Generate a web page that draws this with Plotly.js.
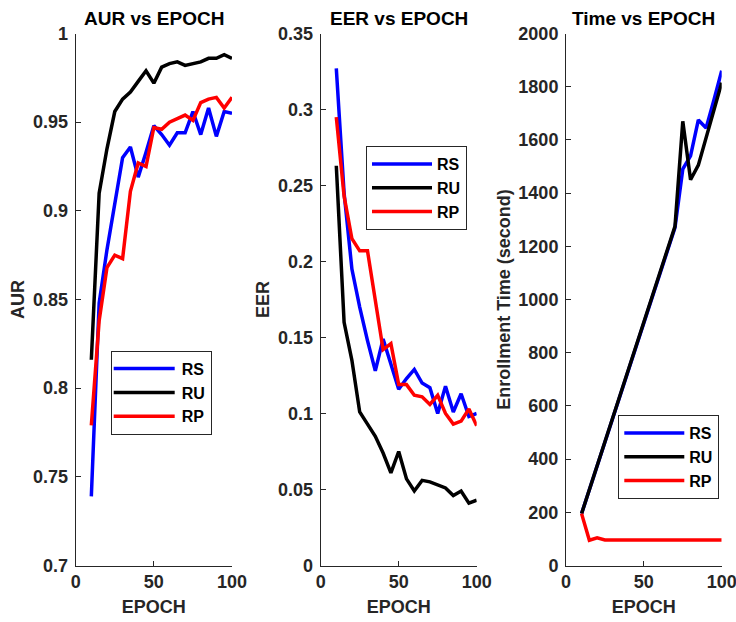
<!DOCTYPE html>
<html>
<head>
<meta charset="utf-8">
<script src="https://cdn.plot.ly/plotly-3.0.1.min.js"></script>
<style>html,body{margin:0;padding:0;background:#fff;}#chart{width:736px;height:622px;}</style>
</head>
<body>
<div id="chart"></div>
<script>
const epochs = [10,15,20,25,30,35,40,45,50,55,60,65,70,75,80,85,90,95,100];

const aurRS = [0.739,0.848,0.878,0.904,0.930,0.936,0.919,0.933,0.948,0.943,0.937,0.944,0.944,0.956,0.943,0.958,0.942,0.956,0.955];
const aurRU = [0.816,0.910,0.935,0.956,0.963,0.967,0.973,0.979,0.972,0.981,0.983,0.984,0.982,0.983,0.984,0.986,0.986,0.988,0.986];
const aurRP = [0.779,0.838,0.868,0.875,0.873,0.911,0.927,0.925,0.947,0.946,0.950,0.952,0.954,0.951,0.961,0.963,0.964,0.958,0.964];

const eerRS = [0.327,0.245,0.195,0.170,0.148,0.128,0.149,0.133,0.116,0.123,0.129,0.120,0.117,0.100,0.118,0.101,0.113,0.098,0.100];
const eerRU = [0.263,0.160,0.135,0.101,0.093,0.085,0.074,0.061,0.075,0.057,0.049,0.056,0.055,0.053,0.051,0.046,0.049,0.041,0.043];
const eerRP = [0.295,0.243,0.215,0.207,0.207,0.173,0.142,0.146,0.119,0.119,0.112,0.111,0.106,0.112,0.100,0.093,0.095,0.103,0.092];

const timeRS = [195,285,375,465,555,645,735,825,915,1005,1095,1180,1270,1490,1540,1675,1645,1750,1860];
const timeRU = [195,285,375,465,555,645,735,825,915,1005,1095,1185,1275,1670,1450,1505,1610,1710,1815];
const timeRP = [195,95,104,96,96,96,96,96,96,96,96,96,96,96,96,96,96,96,96];

const seriesNames = ['RS','RU','RP'];
const seriesColors = ['#0000FF','#000000','#FF0000'];

const panelTitles = ['AUR vs EPOCH','EER vs EPOCH','Time vs EPOCH'];
const yTitles = ['AUR','EER','Enrollment Time (second)'];
const xTickVals = [0,50,100];
const y1Ticks = [0.7,0.75,0.8,0.85,0.9,0.95,1];
const y1Text = ['0.7','0.75','0.8','0.85','0.9','0.95','1'];
const y2Ticks = [0,0.05,0.1,0.15,0.2,0.25,0.3,0.35];
const y2Text = ['0','0.05','0.1','0.15','0.2','0.25','0.3','0.35'];
const y3Ticks = [0,200,400,600,800,1000,1200,1400,1600,1800,2000];
const y3Text = ['0','200','400','600','800','1000','1200','1400','1600','1800','2000'];

const W = 736, H = 622;
const FONT = 'Liberation Sans, Arial, sans-serif';
const TXT = '#262626';

const panels = [
  {data:[aurRS,aurRU,aurRP], xa:'x', ya:'y', leg:'legend'},
  {data:[eerRS,eerRU,eerRP], xa:'x2', ya:'y2', leg:'legend2'},
  {data:[timeRS,timeRU,timeRP], xa:'x3', ya:'y3', leg:'legend3'}
];

const traces = [];
panels.forEach(p => {
  p.data.forEach((vals, i) => {
    traces.push({
      x: epochs, y: vals, type:'scatter', mode:'lines',
      name: seriesNames[i], xaxis: p.xa, yaxis: p.ya, legend: p.leg,
      line:{color: seriesColors[i], width:3.5}
    });
  });
});

const xDom = [[75.7,232],[320.7,476.7],[566,721.7]].map(a => [a[0]/W, a[1]/W]);
const yDom = [1 - 565.5/H, 1 - 33.5/H];

function xAxis(i){
  return {
    domain: xDom[i], range:[0,100], anchor: i===0?'y':'y'+(i+1),
    showline:true, linecolor:TXT, linewidth:1, mirror:false,
    ticks:'inside', ticklen:5, tickcolor:TXT, tickwidth:1,
    tickvals: xTickVals, showgrid:false, zeroline:false,
    ticklabeloverflow:'allow',
    tickfont:{family:FONT, size:18, color:TXT, weight:'bold'},
    title:{text:'EPOCH', font:{family:FONT, size:18, color:TXT, weight:'bold'}, standoff:9},
    automargin:false, fixedrange:true
  };
}
function yAxis(i, range, vals, text){
  return {
    domain: yDom, range: range, anchor: i===0?'x':'x'+(i+1),
    showline:true, linecolor:TXT, linewidth:1, mirror:false,
    ticks:'inside', ticklen:5, tickcolor:TXT, tickwidth:1,
    tickvals: vals, ticktext: text, showgrid:false, zeroline:false,
    ticklabeloverflow:'allow',
    tickfont:{family:FONT, size:18, color:TXT, weight:'bold'},
    ticklabelstandoff:3,
    title:{text:yTitles[i], font:{family:FONT, size:18, color:TXT, weight:'bold'}, standoff:3},
    automargin:false, fixedrange:true
  };
}

function legendAt(px, py){
  return {
    x: px/W, y: 1 - py/H, xanchor:'left', yanchor:'top',
    bgcolor:'#ffffff', bordercolor:TXT, borderwidth:1,
    font:{family:FONT, size:16, color:'#000', weight:'bold'},
    itemwidth:60, tracegroupgap:0
  };
}

const annotations = panelTitles.map((t, i) => ({
  text: t, xref:'paper', yref:'paper',
  x: (xDom[i][0]+xDom[i][1])/2, y: 1 - 18/H,
  xanchor:'center', yanchor:'middle', showarrow:false,
  font:{family:FONT, size:19, color:'#000', weight:'bold'}
}));

const layout = {
  width:W, height:H, margin:{l:0,r:0,t:0,b:0},
  paper_bgcolor:'#fff', plot_bgcolor:'#fff',
  showlegend:true,
  xaxis:xAxis(0), xaxis2:xAxis(1), xaxis3:xAxis(2),
  yaxis:yAxis(0,[0.7,1],y1Ticks,y1Text),
  yaxis2:yAxis(1,[0,0.35],y2Ticks,y2Text),
  yaxis3:yAxis(2,[0,2000],y3Ticks,y3Text),
  legend:legendAt(110.7,350.7),
  legend2:legendAt(366,146),
  legend3:legendAt(618.3,415),
  annotations: annotations
};

Plotly.newPlot('chart', traces, layout, {displayModeBar:false, staticPlot:true}).then(gd => {
  // lengthen legend line samples to span the item width, as in the original figure
  gd.querySelectorAll('g.traces').forEach(g => {
    const txt = g.querySelector('text.legendtext');
    const path = g.querySelector('g.legendlines path');
    if (!txt || !path) return;
    const tx = parseFloat(txt.getAttribute('x')) || 40;
    path.setAttribute('d', 'M2,0H' + (tx - 7));
  });
});
</script>
</body>
</html>
